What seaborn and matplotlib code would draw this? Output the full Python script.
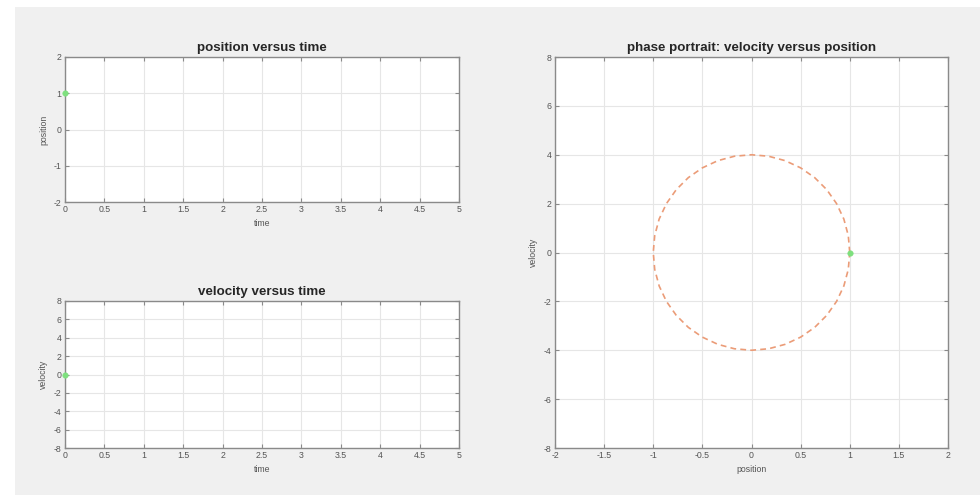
import matplotlib
matplotlib.use("Agg")
import matplotlib.pyplot as plt
import seaborn as sns
import pandas as pd
from matplotlib.patches import Rectangle

# ---- data ----
start_time = [0.0]
start_position = [1.0]
start_velocity = [0.0]

# phase trajectory (points on the dashed curve)
phase_position = [1.0, 0.985, 0.940, 0.866, 0.766, 0.643, 0.5, 0.342, 0.174, 0.0,
                  -0.174, -0.342, -0.5, -0.643, -0.766, -0.866, -0.940, -0.985, -1.0,
                  -0.985, -0.940, -0.866, -0.766, -0.643, -0.5, -0.342, -0.174, 0.0,
                  0.174, 0.342, 0.5, 0.643, 0.766, 0.866, 0.940, 0.985, 1.0]
phase_velocity = [0.0, 0.695, 1.368, 2.0, 2.571, 3.064, 3.464, 3.759, 3.939, 4.0,
                  3.939, 3.759, 3.464, 3.064, 2.571, 2.0, 1.368, 0.695, 0.0,
                  -0.695, -1.368, -2.0, -2.571, -3.064, -3.464, -3.759, -3.939, -4.0,
                  -3.939, -3.759, -3.464, -3.064, -2.571, -2.0, -1.368, -0.695, 0.0]

time_ticks = [0, 0.5, 1, 1.5, 2, 2.5, 3, 3.5, 4, 4.5, 5]
pos_ticks = [-2, -1, 0, 1, 2]
vel_ticks = [-8, -6, -4, -2, 0, 2, 4, 6, 8]
phase_x_ticks = [-2, -1.5, -1, -0.5, 0, 0.5, 1, 1.5, 2]

sns.set_theme(style="whitegrid")
plt.rcParams['font.family'] = ['Liberation Sans', 'DejaVu Sans']

fig = plt.figure(figsize=(9.8, 4.95), dpi=100, facecolor="white")
fig.patches.append(Rectangle((15 / 980, 0), 1 - 15 / 980, 1 - 7 / 495,
                             transform=fig.transFigure, facecolor="#f0f0f0",
                             edgecolor="none", zorder=-10))

ax1 = fig.add_axes([65 / 980, (495 - 202) / 495, 394 / 980, 145 / 495])
ax2 = fig.add_axes([65 / 980, (495 - 448) / 495, 394 / 980, 147 / 495])
ax3 = fig.add_axes([555 / 980, (495 - 448) / 495, 393 / 980, 391 / 495])

green = "#7ee07e"
orange = "#eb9c78"

df_start = pd.DataFrame({"time": start_time, "position": start_position,
                         "velocity": start_velocity})
df_phase = pd.DataFrame({"position": phase_position, "velocity": phase_velocity})

sns.scatterplot(data=df_start, x="time", y="position", ax=ax1, color=green,
                s=16, edgecolor=green, zorder=5, clip_on=False)
sns.scatterplot(data=df_start, x="time", y="velocity", ax=ax2, color=green,
                s=16, edgecolor=green, zorder=5, clip_on=False)
sns.lineplot(data=df_phase, x="position", y="velocity", ax=ax3, sort=False,
             color=orange, lw=1.2, linestyle=(0, (3.5, 2.5)), estimator=None)
sns.scatterplot(data=df_start, x="position", y="velocity", ax=ax3, color=green,
                s=16, edgecolor=green, zorder=5)

def style(ax, xt, yt, title, xl, yl):
    ax.set_facecolor("white")
    ax.set_xlim(xt[0], xt[-1])
    ax.set_ylim(yt[0], yt[-1])
    ax.set_xticks(xt)
    ax.set_yticks(yt)
    ax.set_xticklabels([f"{v:g}" for v in xt])
    ax.set_yticklabels([f"{v:g}" for v in yt])
    ax.grid(True, color="#e6e6e6", lw=0.8)
    for s in ax.spines.values():
        s.set_visible(True)
        s.set_color("#8a8a8a")
        s.set_linewidth(1.0)
    ax.tick_params(direction="in", length=3, width=0.8, colors="#8a8a8a",
                   labelcolor="#555555", labelsize=6.3, pad=2.5,
                   top=True, right=True, bottom=True, left=True)
    ax.set_title(title, fontsize=9.6, fontweight="bold", color="#262626", pad=4)
    ax.set_xlabel(xl, fontsize=6.3, color="#555555", labelpad=3)
    ax.set_ylabel(yl, fontsize=6.3, color="#555555", labelpad=4)

style(ax1, time_ticks, pos_ticks, "position versus time", "time", "position")
style(ax2, time_ticks, vel_ticks, "velocity versus time", "time", "velocity")
style(ax3, phase_x_ticks, vel_ticks, "phase portrait: velocity versus position",
      "position", "velocity")

fig.savefig("out.png", dpi=100, facecolor=fig.get_facecolor())
